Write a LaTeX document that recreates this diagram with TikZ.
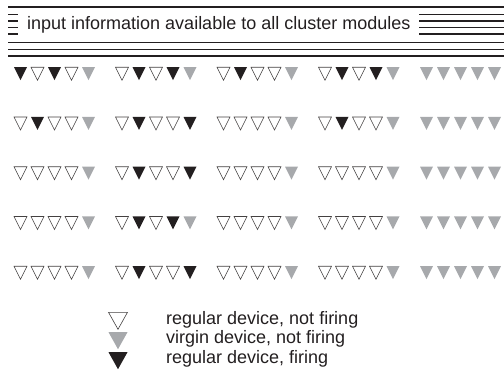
\documentclass[tikz,border=0pt]{standalone}
\usepackage{fontspec}
\setmainfont{Liberation Sans}
\usetikzlibrary{shapes.geometric}

\definecolor{ink}{HTML}{231F20}
\definecolor{virgingray}{HTML}{A7A9AC}

\tikzset{
  dev/.style={isosceles triangle, isosceles triangle stretches, shape border rotate=-90,
    minimum width=13pt, minimum height=13pt, inner sep=0pt, anchor=north},
  idle/.style={dev, draw=ink!85, line width=0.6pt, fill=white},
  fire/.style={dev, fill=ink},
  virgin/.style={dev, fill=virgingray},
  keysize/.style={minimum width=19pt, minimum height=17pt},
  bus/.style={ink, line width=1.5pt},
  legtext/.style={font=\fontsize{18}{20}\selectfont, text=ink, anchor=base west, inner sep=0pt},
}

\begin{document}
\begin{tikzpicture}[x=1pt, y=-1pt]
\useasboundingbox (0,0) rectangle (504,374);

% the shared input bus at the top
\draw[bus] (8,7) -- (504,7);
\foreach \y in {14.5,21,27.5,34} {
  \draw[bus] (8,\y) -- (18,\y);
  \draw[bus] (419,\y) -- (504,\y);
}
\foreach \y in {42.3,49.3,56} \draw[bus] (8,\y) -- (504,\y);
\node[font=\fontsize{18}{20}\selectfont, text=ink, anchor=base west, inner sep=0pt] (bus) at (27,30) {input information available to all cluster modules};

% five cluster modules, five rows of devices each
\foreach \row [count=\r from 0] in {%
  {fire,idle,fire,idle,virgin, idle,fire,idle,fire,virgin, idle,fire,idle,idle,virgin, idle,fire,idle,fire,virgin, virgin,virgin,virgin,virgin,virgin},%
  {idle,fire,idle,idle,virgin, idle,fire,idle,idle,fire, idle,idle,idle,idle,virgin, idle,fire,idle,idle,virgin, virgin,virgin,virgin,virgin,virgin},%
  {idle,idle,idle,idle,virgin, idle,fire,idle,idle,fire, idle,idle,idle,idle,virgin, idle,idle,idle,idle,virgin, virgin,virgin,virgin,virgin,virgin},%
  {idle,idle,idle,idle,virgin, idle,fire,idle,fire,virgin, idle,idle,idle,idle,virgin, idle,idle,idle,idle,virgin, virgin,virgin,virgin,virgin,virgin},%
  {idle,idle,idle,idle,virgin, idle,fire,idle,idle,fire, idle,idle,idle,idle,virgin, idle,idle,idle,idle,virgin, virgin,virgin,virgin,virgin,virgin}%
}{
  \foreach \s [count=\i from 0] in \row {
    \pgfmathsetmacro{\px}{20.5+101.5*int(\i/5)+17*mod(\i,5)}
    \pgfmathsetmacro{\py}{67+49.75*\r}
    \node[\s] (d-\r-\i) at (\px,\py) {};
  }
}

% legend
\node[idle, keysize] (key-idle) at (118,312) {};
\node[virgin, keysize] (key-virgin) at (118,332) {};
\node[fire, keysize] (key-fire) at (118,352) {};

\node[legtext] (txt-idle) at (166,325) {regular device, not firing};
\node[legtext] (txt-virgin) at (166,344) {virgin device, not firing};
\node[legtext] (txt-fire) at (166,363) {regular device, firing};

\end{tikzpicture}
\end{document}
